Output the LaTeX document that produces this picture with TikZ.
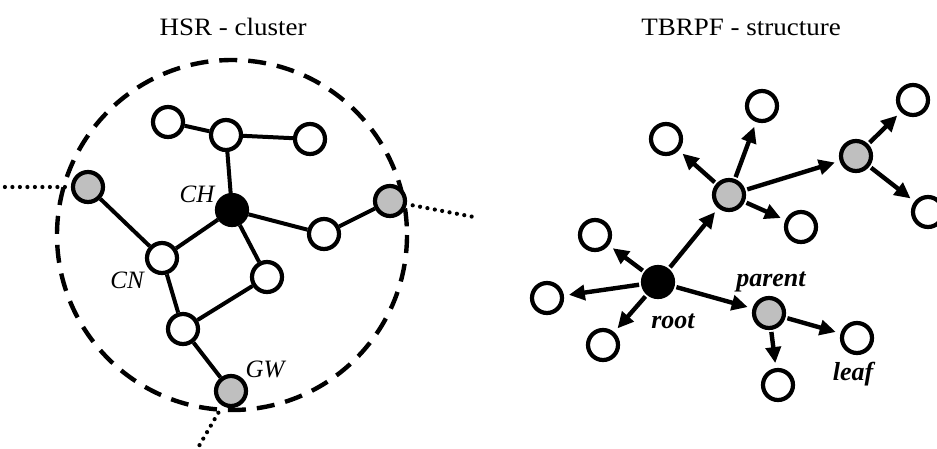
\documentclass[tikz,border=0pt]{standalone}
\usepackage{fontspec}
\setmainfont{Liberation Serif}
\usetikzlibrary{arrows.meta}

\tikzset{
  nd/.style={circle, draw=black, line width=4.2pt, minimum size=30pt, inner sep=0pt, fill=white},
  grey/.style={nd, fill=black!25},
  hub/.style={nd, fill=black},
  edge/.style={line width=4pt},
  dotline/.style={line width=4.2pt, line cap=round, dash pattern=on 0pt off 7.5pt},
  arr/.style={line width=4.4pt, shorten <=2pt, shorten >=5pt, -{Triangle[length=16pt,width=15pt]}},
  title/.style={font=\fontsize{25}{28}\selectfont, xscale=1.08},
  lbl/.style={font=\fontsize{25}{28}\selectfont\itshape, inner sep=0pt},
  blbl/.style={font=\fontsize{26}{29}\selectfont\bfseries\itshape, inner sep=0pt}
}

\begin{document}
\begin{tikzpicture}[x=1pt, y=-1pt]
\useasboundingbox (0,0) rectangle (937,448);

% titles
\node[title] (t1) at (233,27) {HSR - cluster};
\node[title] (t2) at (741,27) {TBRPF - structure};

% ---------- cluster ----------
\draw[line width=4.4pt, dash pattern=on 18pt off 11pt] (232,235) circle (175);

\node[nd]   (a1) at (168,122) {};
\node[nd]   (a2) at (226,135) {};
\node[nd]   (a3) at (310,139) {};
\node[grey] (g1) at (88,187) {};
\node[hub]  (ch) at (232,210) {};
\node[grey] (g2) at (390,201) {};
\node[nd]   (cn) at (162,258) {};
\node[nd]   (w1) at (324,234) {};
\node[nd]   (w2) at (267,277) {};
\node[nd]   (w3) at (183,329) {};
\node[grey] (gw) at (231,391) {};

\draw[edge] (a1) -- (a2);
\draw[edge] (a2) -- (a3);
\draw[edge] (a2) -- (ch);
\draw[edge] (g1) -- (cn);
\draw[edge] (cn) -- (ch);
\draw[edge] (ch) -- (w1);
\draw[edge] (w1) -- (g2);
\draw[edge] (ch) -- (w2);
\draw[edge] (w2) -- (w3);
\draw[edge] (cn) -- (w3);
\draw[edge] (w3) -- (gw);

% links leaving the cluster
\coordinate (e1) at (4,187);
\coordinate (e2) at (474,217);
\coordinate (e3) at (199,446);
\draw[dotline, shorten <=6pt] (g1) -- (e1);
\draw[dotline, shorten <=6pt] (g2) -- (e2);
\draw[dotline, shorten <=8pt] (gw) -- (e3);

\node[lbl] (lch) at (197,194) {CH};
\node[lbl] (lcn) at (127,280) {CN};
\node[lbl] (lgw) at (265,369) {GW};

% ---------- tree ----------
\node[hub]  (root) at (658,282) {};
\node[grey] (p1)   at (729,195) {};
\node[grey] (p2)   at (856,156) {};
\node[grey] (par)  at (769,313) {};
\node[nd]   (b1)   at (666,139) {};
\node[nd]   (b2)   at (762,106) {};
\node[nd]   (b3)   at (801,227) {};
\node[nd]   (b4)   at (913,100) {};
\node[nd]   (b5)   at (928,212) {};
\node[nd]   (b6)   at (595,235) {};
\node[nd]   (b7)   at (547,298) {};
\node[nd]   (b8)   at (603,345) {};
\node[nd]   (leaf) at (857,338) {};
\node[nd]   (b9)   at (778,385) {};

\draw[arr] (root) -- (p1);
\draw[arr] (root) -- (b6);
\draw[arr] (root) -- (b7);
\draw[arr] (root) -- (b8);
\draw[arr] (root) -- (par);
\draw[arr] (p1) -- (b1);
\draw[arr] (p1) -- (b2);
\draw[arr] (p1) -- (b3);
\draw[arr] (p1) -- (p2);
\draw[arr] (p2) -- (b4);
\draw[arr] (p2) -- (b5);
\draw[arr] (par) -- (leaf);
\draw[arr] (par) -- (b9);

\node[blbl] (lroot) at (673,321) {root};
\node[blbl] (lpar)  at (771,282) {parent};
\node[blbl] (lleaf) at (853,374) {leaf};
\end{tikzpicture}
\end{document}
